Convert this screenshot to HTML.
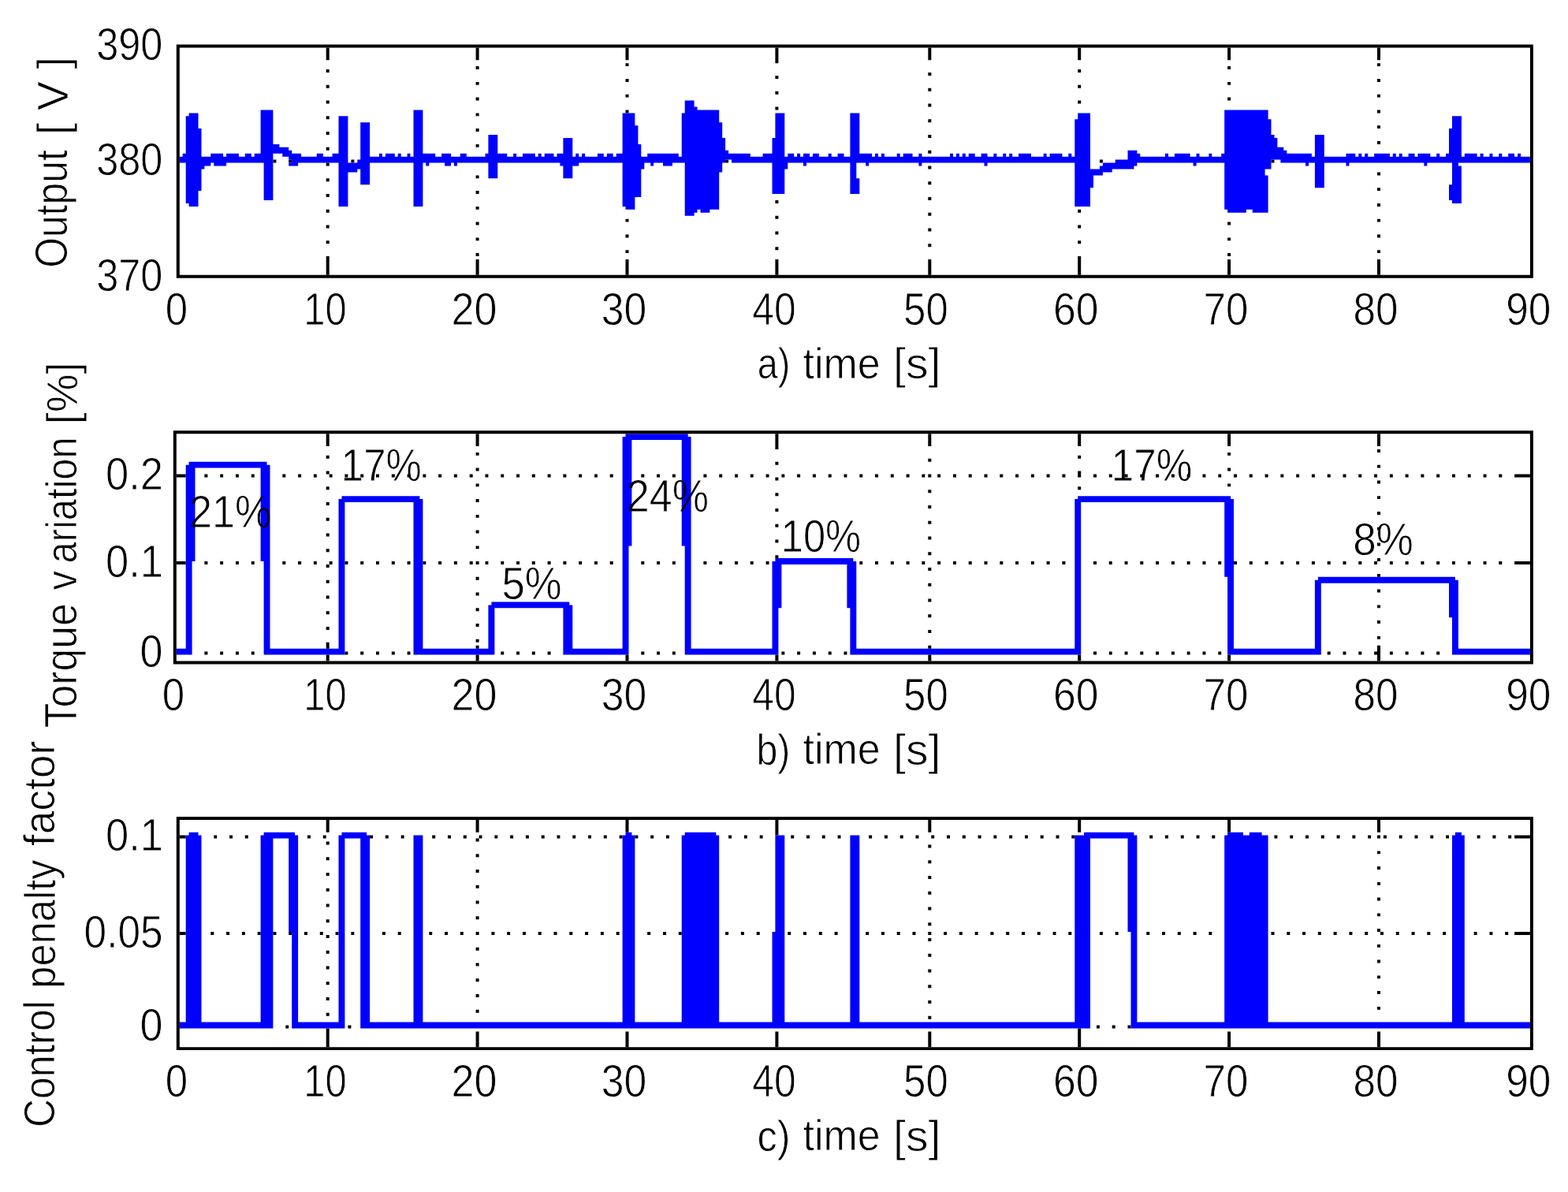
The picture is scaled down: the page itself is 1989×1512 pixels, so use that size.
<!DOCTYPE html>
<html lang="en"><head><meta charset="utf-8"><title>Figure</title>
<style>
html,body{margin:0;padding:0;background:#fff}
body{width:1989px;height:1512px;overflow:hidden}
svg{display:block}
text{font-family:"Liberation Sans","DejaVu Sans",sans-serif;font-size:100px;fill:#000;stroke:#fff;stroke-width:1.5px;stroke-linejoin:round}
g.t{mix-blend-mode:multiply}
</style></head><body>
<svg width="1989" height="1512" viewBox="0 0 1989 1512">
<rect width="1989" height="1512" fill="#fff"/>
<path d="M1561.1 348.8 L1557.1 348.8 L1557.1 329.0 L1561.1 329.0ZM1133.8 712.1 L1133.8 716.0 L1129.8 716.0 L1129.8 712.1ZM1774.7 1063.6 L1774.7 1059.6 L1778.7 1059.6 L1778.7 1063.6ZM291.1 1063.6 L291.1 1059.6 L295.0 1059.6 L295.0 1063.6ZM413.7 309.3 L413.7 305.3 L417.7 305.3 L417.7 309.3ZM417.7 167.1 L417.7 171.0 L413.7 171.0 L413.7 167.1ZM1588.8 605.5 L1584.8 605.5 L1584.8 601.5 L1588.8 601.5ZM1367.2 1328.2 L1367.2 1304.5 L1371.2 1304.5 L1371.2 1328.2ZM350.4 1186.0 L346.4 1186.0 L346.4 1182.1 L350.4 1182.1ZM568.0 1059.6 L572.0 1059.6 L572.0 1063.6 L568.0 1063.6ZM746.1 1059.6 L750.0 1059.6 L750.0 1063.6 L746.1 1063.6ZM1066.5 1063.6 L1062.6 1063.6 L1062.6 1059.6 L1066.5 1059.6ZM556.1 712.1 L560.1 712.1 L560.1 716.0 L556.1 716.0ZM659.0 830.6 L655.1 830.6 L655.1 826.6 L659.0 826.6ZM536.4 716.0 L536.4 712.1 L540.3 712.1 L540.3 716.0ZM789.6 1059.6 L789.6 1063.6 L785.6 1063.6 L785.6 1059.6ZM1300.0 1186.0 L1296.0 1186.0 L1296.0 1182.1 L1300.0 1182.1ZM1885.5 605.5 L1881.6 605.5 L1881.6 601.5 L1885.5 601.5ZM461.2 605.5 L457.2 605.5 L457.2 601.5 L461.2 601.5ZM1470.1 601.5 L1470.1 605.5 L1466.1 605.5 L1466.1 601.5ZM1371.2 336.9 L1371.2 348.8 L1367.2 348.8 L1367.2 325.1 L1371.2 325.1ZM1177.3 830.6 L1181.3 830.6 L1181.3 838.5 L1177.3 838.5ZM809.4 1063.6 L805.4 1063.6 L805.4 1059.6 L809.4 1059.6ZM607.6 186.8 L603.6 186.8 L603.6 182.9 L607.6 182.9ZM1802.4 830.6 L1802.4 826.6 L1806.4 826.6 L1806.4 830.6ZM1058.6 1186.0 L1058.6 1182.1 L1062.6 1182.1 L1062.6 1186.0ZM1683.7 826.6 L1687.7 826.6 L1687.7 830.6 L1683.7 830.6ZM417.7 1312.4 L417.7 1328.2 L413.7 1328.2 L413.7 1304.5 L417.7 1304.5ZM603.6 1107.0 L603.6 1103.1 L607.6 1103.1 L607.6 1107.0ZM603.6 838.5 L603.6 830.6 L607.6 830.6 L607.6 838.5ZM603.6 88.1 L603.6 84.1 L607.6 84.1 L607.6 88.1ZM417.7 333.0 L417.7 348.8 L413.7 348.8 L413.7 325.1 L417.7 325.1ZM299.0 605.5 L299.0 601.5 L302.9 601.5 L302.9 605.5ZM1747.0 629.2 L1751.0 629.2 L1751.0 633.1 L1747.0 633.1ZM1703.5 712.1 L1707.5 712.1 L1707.5 716.0 L1703.5 716.0ZM674.8 712.1 L678.8 712.1 L678.8 716.0 L674.8 716.0ZM314.8 1059.6 L314.8 1063.6 L310.8 1063.6 L310.8 1059.6ZM742.1 1186.0 L742.1 1182.1 L746.1 1182.1 L746.1 1186.0ZM1367.2 309.3 L1367.2 305.3 L1371.2 305.3 L1371.2 309.3ZM1470.1 826.6 L1470.1 830.6 L1466.1 830.6 L1466.1 826.6ZM607.6 222.4 L607.6 226.3 L603.6 226.3 L603.6 222.4ZM1747.0 791.1 L1747.0 787.1 L1751.0 787.1 L1751.0 791.1ZM516.6 712.1 L520.5 712.1 L520.5 716.0 L516.6 716.0ZM1212.9 601.5 L1212.9 605.5 L1209.0 605.5 L1209.0 601.5ZM473.1 1063.6 L469.1 1063.6 L469.1 1059.6 L473.1 1059.6ZM607.6 566.0 L603.6 566.0 L603.6 550.2 L607.6 550.2ZM607.6 676.6 L603.6 676.6 L603.6 672.6 L607.6 672.6ZM1177.3 783.2 L1177.3 779.2 L1181.3 779.2 L1181.3 783.2ZM417.7 1150.5 L413.7 1150.5 L413.7 1146.5 L417.7 1146.5ZM1177.3 645.0 L1177.3 641.0 L1181.3 641.0 L1181.3 645.0ZM647.1 1182.1 L647.1 1186.0 L643.2 1186.0 L643.2 1182.1ZM635.3 826.6 L639.2 826.6 L639.2 830.6 L635.3 830.6ZM813.3 826.6 L817.3 826.6 L817.3 830.6 L813.3 830.6ZM928.0 1063.6 L924.1 1063.6 L924.1 1059.6 L928.0 1059.6ZM1751.0 1083.3 L1747.0 1083.3 L1747.0 1079.4 L1751.0 1079.4ZM235.7 605.5 L223.8 605.5 L223.8 601.5 L235.7 601.5ZM987.4 838.5 L983.4 838.5 L983.4 830.6 L987.4 830.6ZM1391.0 830.6 L1387.0 830.6 L1387.0 826.6 L1391.0 826.6ZM1616.5 1063.6 L1616.5 1059.6 L1620.4 1059.6 L1620.4 1063.6ZM1644.2 712.1 L1648.1 712.1 L1648.1 716.0 L1644.2 716.0ZM322.7 826.6 L322.7 830.6 L318.8 830.6 L318.8 826.6ZM1747.0 1118.9 L1751.0 1118.9 L1751.0 1122.8 L1747.0 1122.8ZM1715.4 1186.0 L1711.4 1186.0 L1711.4 1182.1 L1715.4 1182.1ZM1201.0 1063.6 L1201.0 1059.6 L1205.0 1059.6 L1205.0 1063.6ZM1398.9 1186.0 L1394.9 1186.0 L1394.9 1182.1 L1398.9 1182.1ZM1181.3 151.3 L1181.3 155.2 L1177.3 155.2 L1177.3 151.3ZM413.7 210.5 L413.7 206.6 L417.7 206.6 L417.7 210.5ZM793.5 143.4 L793.5 139.4 L797.5 139.4 L797.5 143.4ZM1897.4 1063.6 L1893.4 1063.6 L1893.4 1059.6 L1897.4 1059.6ZM1751.0 1280.8 L1747.0 1280.8 L1747.0 1276.9 L1751.0 1276.9ZM1751.0 688.4 L1751.0 692.4 L1747.0 692.4 L1747.0 688.4ZM1070.5 826.6 L1074.4 826.6 L1074.4 830.6 L1070.5 830.6ZM1557.1 325.1 L1557.1 321.1 L1561.1 321.1 L1561.1 325.1ZM983.4 293.5 L987.4 293.5 L987.4 297.4 L983.4 297.4ZM848.9 1063.6 L845.0 1063.6 L845.0 1059.6 L848.9 1059.6ZM1371.2 558.1 L1371.2 566.0 L1367.2 566.0 L1367.2 550.2 L1371.2 550.2ZM417.7 696.3 L417.7 700.2 L413.7 700.2 L413.7 696.3ZM1751.0 1316.4 L1751.0 1328.2 L1747.0 1328.2 L1747.0 1308.5 L1751.0 1308.5ZM1220.8 1059.6 L1224.8 1059.6 L1224.8 1063.6 L1220.8 1063.6ZM607.6 1083.3 L607.6 1087.3 L603.6 1087.3 L603.6 1083.3ZM1624.4 716.0 L1624.4 712.1 L1628.3 712.1 L1628.3 716.0ZM793.5 340.9 L793.5 329.0 L797.5 329.0 L797.5 348.8 L793.5 348.8ZM488.9 1182.1 L488.9 1186.0 L484.9 1186.0 L484.9 1182.1ZM793.5 72.3 L793.5 60.4 L797.5 60.4 L797.5 76.2 L793.5 76.2ZM1561.1 127.6 L1557.1 127.6 L1557.1 123.6 L1561.1 123.6ZM413.7 558.1 L413.7 550.2 L417.7 550.2 L417.7 566.0 L413.7 566.0ZM1699.6 1059.6 L1699.6 1063.6 L1695.6 1063.6 L1695.6 1059.6ZM1557.1 88.1 L1557.1 84.1 L1561.1 84.1 L1561.1 88.1ZM983.4 645.0 L987.4 645.0 L987.4 648.9 L983.4 648.9ZM1747.0 103.9 L1747.0 99.9 L1751.0 99.9 L1751.0 103.9ZM920.1 1182.1 L924.1 1182.1 L924.1 1186.0 L920.1 1186.0ZM457.2 712.1 L461.2 712.1 L461.2 716.0 L457.2 716.0ZM1181.3 1292.7 L1177.3 1292.7 L1177.3 1288.7 L1181.3 1288.7ZM635.3 716.0 L635.3 712.1 L639.2 712.1 L639.2 716.0ZM1557.1 593.6 L1561.1 593.6 L1561.1 597.6 L1557.1 597.6ZM417.7 1055.7 L413.7 1055.7 L413.7 1039.9 L417.7 1039.9ZM583.8 1186.0 L583.8 1182.1 L587.8 1182.1 L587.8 1186.0ZM607.6 775.3 L603.6 775.3 L603.6 771.3 L607.6 771.3ZM1747.0 242.1 L1747.0 238.2 L1751.0 238.2 L1751.0 242.1ZM1747.0 317.2 L1751.0 317.2 L1751.0 321.1 L1747.0 321.1ZM1181.3 720.0 L1181.3 723.9 L1177.3 723.9 L1177.3 720.0ZM797.5 1051.7 L797.5 1055.7 L793.5 1055.7 L793.5 1039.9 L797.5 1039.9ZM603.6 1316.4 L603.6 1308.5 L607.6 1308.5 L607.6 1328.2 L603.6 1328.2ZM797.5 84.1 L793.5 84.1 L793.5 80.2 L797.5 80.2ZM607.6 64.4 L607.6 76.2 L603.6 76.2 L603.6 60.4 L607.6 60.4ZM1074.4 601.5 L1074.4 605.5 L1070.5 605.5 L1070.5 601.5ZM987.4 254.0 L987.4 257.9 L983.4 257.9 L983.4 254.0ZM603.6 617.3 L603.6 613.4 L607.6 613.4 L607.6 617.3ZM603.6 692.4 L607.6 692.4 L607.6 696.3 L603.6 696.3ZM963.7 1063.6 L963.7 1059.6 L967.6 1059.6 L967.6 1063.6ZM1371.2 111.8 L1367.2 111.8 L1367.2 107.8 L1371.2 107.8ZM1446.3 830.6 L1446.3 826.6 L1450.3 826.6 L1450.3 830.6ZM1177.3 1174.2 L1177.3 1170.2 L1181.3 1170.2 L1181.3 1174.2ZM1177.3 194.7 L1177.3 190.8 L1181.3 190.8 L1181.3 194.7ZM1683.7 712.1 L1687.7 712.1 L1687.7 716.0 L1683.7 716.0ZM995.3 605.5 L991.4 605.5 L991.4 601.5 L995.3 601.5ZM738.1 601.5 L738.1 605.5 L734.2 605.5 L734.2 601.5ZM797.5 321.1 L793.5 321.1 L793.5 317.2 L797.5 317.2ZM607.6 261.9 L607.6 265.8 L603.6 265.8 L603.6 261.9ZM1177.3 562.0 L1177.3 550.2 L1181.3 550.2 L1181.3 566.0 L1177.3 566.0ZM1936.9 1063.6 L1921.1 1063.6 L1921.1 1059.6 L1940.9 1059.6 L1940.9 1063.6ZM1054.7 830.6 L1050.7 830.6 L1050.7 826.6 L1054.7 826.6ZM477.0 601.5 L481.0 601.5 L481.0 605.5 L477.0 605.5ZM417.7 1190.0 L413.7 1190.0 L413.7 1186.0 L417.7 1186.0ZM417.7 597.6 L417.7 601.5 L413.7 601.5 L413.7 597.6ZM714.4 605.5 L714.4 601.5 L718.4 601.5 L718.4 605.5ZM1727.3 830.6 L1723.3 830.6 L1723.3 826.6 L1727.3 826.6ZM1802.4 712.1 L1806.4 712.1 L1806.4 716.0 L1802.4 716.0ZM603.6 1051.7 L603.6 1039.9 L607.6 1039.9 L607.6 1055.7 L603.6 1055.7ZM540.3 605.5 L536.4 605.5 L536.4 601.5 L540.3 601.5ZM1410.7 605.5 L1406.8 605.5 L1406.8 601.5 L1410.7 601.5ZM1125.9 1059.6 L1125.9 1063.6 L1121.9 1063.6 L1121.9 1059.6ZM322.7 712.1 L322.7 716.0 L318.8 716.0 L318.8 712.1ZM1232.7 712.1 L1232.7 716.0 L1228.7 716.0 L1228.7 712.1ZM417.7 1225.5 L417.7 1229.5 L413.7 1229.5 L413.7 1225.5ZM666.9 1186.0 L663.0 1186.0 L663.0 1182.1 L666.9 1182.1ZM413.7 72.3 L413.7 60.4 L417.7 60.4 L417.7 76.2 L413.7 76.2ZM1153.6 601.5 L1153.6 605.5 L1149.6 605.5 L1149.6 601.5ZM1751.0 1142.6 L1747.0 1142.6 L1747.0 1138.6 L1751.0 1138.6ZM1410.7 1304.5 L1410.7 1300.6 L1414.7 1300.6 L1414.7 1304.5ZM1561.1 838.5 L1557.1 838.5 L1557.1 830.6 L1561.1 830.6ZM1177.3 585.7 L1177.3 581.8 L1181.3 581.8 L1181.3 585.7ZM1367.2 601.5 L1367.2 597.6 L1371.2 597.6 L1371.2 605.5 L1367.2 605.5ZM754.0 712.1 L757.9 712.1 L757.9 716.0 L754.0 716.0ZM983.4 1051.7 L983.4 1039.9 L987.4 1039.9 L987.4 1059.6 L983.4 1059.6ZM825.2 1186.0 L821.2 1186.0 L821.2 1182.1 L825.2 1182.1ZM1751.0 139.4 L1751.0 143.4 L1747.0 143.4 L1747.0 139.4ZM421.6 601.5 L421.6 605.5 L417.7 605.5 L417.7 601.5ZM983.4 72.3 L983.4 60.4 L987.4 60.4 L987.4 80.2 L983.4 80.2ZM1933.0 1186.0 L1921.1 1186.0 L1921.1 1182.1 L1940.9 1182.1 L1940.9 1186.0ZM508.7 1186.0 L504.7 1186.0 L504.7 1182.1 L508.7 1182.1ZM1747.0 1059.6 L1751.0 1059.6 L1751.0 1063.6 L1747.0 1063.6ZM1751.0 593.6 L1747.0 593.6 L1747.0 589.7 L1751.0 589.7ZM785.6 1186.0 L781.7 1186.0 L781.7 1182.1 L785.6 1182.1ZM1747.0 1221.6 L1747.0 1217.6 L1751.0 1217.6 L1751.0 1221.6ZM413.7 151.3 L413.7 147.3 L417.7 147.3 L417.7 151.3ZM1747.0 605.5 L1743.1 605.5 L1743.1 601.5 L1747.0 601.5ZM397.9 605.5 L397.9 601.5 L401.8 601.5 L401.8 605.5ZM983.4 589.7 L983.4 585.7 L987.4 585.7 L987.4 589.7ZM1652.1 1186.0 L1652.1 1182.1 L1656.0 1182.1 L1656.0 1186.0ZM421.6 712.1 L421.6 716.0 L417.7 716.0 L417.7 712.1ZM1177.3 1075.4 L1177.3 1071.5 L1181.3 1071.5 L1181.3 1075.4ZM1272.3 605.5 L1268.3 605.5 L1268.3 601.5 L1272.3 601.5ZM1303.9 1059.6 L1303.9 1063.6 L1300.0 1063.6 L1300.0 1059.6ZM1177.3 210.5 L1181.3 210.5 L1181.3 214.5 L1177.3 214.5ZM1747.0 329.0 L1751.0 329.0 L1751.0 348.8 L1747.0 348.8ZM1747.0 1257.1 L1751.0 1257.1 L1751.0 1261.1 L1747.0 1261.1ZM983.4 96.0 L987.4 96.0 L987.4 99.9 L983.4 99.9ZM607.6 755.5 L603.6 755.5 L603.6 751.6 L607.6 751.6ZM417.7 818.7 L417.7 822.7 L413.7 822.7 L413.7 814.8 L417.7 814.8ZM1861.8 601.5 L1865.7 601.5 L1865.7 605.5 L1861.8 605.5ZM1557.1 72.3 L1557.1 60.4 L1561.1 60.4 L1561.1 76.2 L1557.1 76.2ZM1877.6 1059.6 L1877.6 1063.6 L1873.6 1063.6 L1873.6 1059.6ZM413.7 285.6 L417.7 285.6 L417.7 289.5 L413.7 289.5ZM1118.0 1182.1 L1121.9 1182.1 L1121.9 1186.0 L1118.0 1186.0ZM1319.7 1186.0 L1315.8 1186.0 L1315.8 1182.1 L1319.7 1182.1ZM1177.3 1272.9 L1177.3 1269.0 L1181.3 1269.0 L1181.3 1272.9ZM481.0 716.0 L477.0 716.0 L477.0 712.1 L481.0 712.1ZM1715.4 1059.6 L1719.3 1059.6 L1719.3 1063.6 L1715.4 1063.6ZM548.2 1063.6 L548.2 1059.6 L552.2 1059.6 L552.2 1063.6ZM603.6 795.0 L603.6 791.1 L607.6 791.1 L607.6 795.0ZM1371.2 838.5 L1367.2 838.5 L1367.2 830.6 L1371.2 830.6ZM575.9 605.5 L575.9 601.5 L579.9 601.5 L579.9 605.5ZM1925.1 601.5 L1940.9 601.5 L1940.9 605.5 L1921.1 605.5 L1921.1 601.5ZM1181.3 818.7 L1181.3 822.7 L1177.3 822.7 L1177.3 818.7ZM1335.6 1186.0 L1335.6 1182.1 L1339.5 1182.1 L1339.5 1186.0ZM1735.2 1182.1 L1735.2 1186.0 L1731.2 1186.0 L1731.2 1182.1ZM1110.0 601.5 L1114.0 601.5 L1114.0 605.5 L1110.0 605.5ZM896.4 712.1 L896.4 716.0 L892.4 716.0 L892.4 712.1ZM1236.7 1182.1 L1240.6 1182.1 L1240.6 1186.0 L1236.7 1186.0ZM797.5 1308.5 L797.5 1328.2 L793.5 1328.2 L793.5 1308.5ZM1177.3 254.0 L1177.3 250.0 L1181.3 250.0 L1181.3 254.0ZM1881.6 716.0 L1881.6 712.1 L1885.5 712.1 L1885.5 716.0ZM860.8 1186.0 L860.8 1182.1 L864.7 1182.1 L864.7 1186.0ZM1410.7 826.6 L1410.7 830.6 L1406.8 830.6 L1406.8 826.6ZM1181.3 60.4 L1181.3 76.2 L1177.3 76.2 L1177.3 60.4ZM1371.2 76.2 L1367.2 76.2 L1367.2 60.4 L1371.2 60.4ZM1802.4 605.5 L1802.4 601.5 L1806.4 601.5 L1806.4 605.5ZM1367.2 265.8 L1371.2 265.8 L1371.2 269.8 L1367.2 269.8ZM413.7 830.6 L417.7 830.6 L417.7 838.5 L413.7 838.5ZM445.4 1182.1 L449.3 1182.1 L449.3 1186.0 L445.4 1186.0ZM1485.9 716.0 L1485.9 712.1 L1489.9 712.1 L1489.9 716.0ZM1545.3 716.0 L1545.3 712.1 L1549.2 712.1 L1549.2 716.0ZM1561.1 1308.5 L1561.1 1328.2 L1557.1 1328.2 L1557.1 1308.5ZM1747.0 731.8 L1747.0 727.9 L1751.0 727.9 L1751.0 731.8ZM833.1 716.0 L833.1 712.1 L837.0 712.1 L837.0 716.0ZM1177.3 1190.0 L1181.3 1190.0 L1181.3 1193.9 L1177.3 1193.9ZM1751.0 1047.8 L1751.0 1055.7 L1747.0 1055.7 L1747.0 1039.9 L1751.0 1039.9ZM1177.3 333.0 L1177.3 329.0 L1181.3 329.0 L1181.3 348.8 L1177.3 348.8ZM698.6 716.0 L694.6 716.0 L694.6 712.1 L698.6 712.1ZM1482.0 1059.6 L1482.0 1063.6 L1478.0 1063.6 L1478.0 1059.6ZM983.4 139.4 L983.4 135.5 L987.4 135.5 L987.4 139.4ZM975.5 601.5 L975.5 605.5 L971.6 605.5 L971.6 601.5ZM1751.0 178.9 L1751.0 182.9 L1747.0 182.9 L1747.0 178.9ZM1181.3 802.9 L1177.3 802.9 L1177.3 799.0 L1181.3 799.0ZM413.7 186.8 L417.7 186.8 L417.7 190.8 L413.7 190.8ZM263.4 601.5 L263.4 605.5 L259.4 605.5 L259.4 601.5ZM1561.1 107.8 L1557.1 107.8 L1557.1 103.9 L1561.1 103.9ZM1161.5 1059.6 L1165.4 1059.6 L1165.4 1063.6 L1161.5 1063.6ZM1747.0 806.9 L1751.0 806.9 L1751.0 810.8 L1747.0 810.8ZM322.7 601.5 L322.7 605.5 L318.8 605.5 L318.8 601.5ZM829.1 1059.6 L829.1 1063.6 L825.2 1063.6 L825.2 1059.6ZM1292.0 716.0 L1288.1 716.0 L1288.1 712.1 L1292.0 712.1ZM983.4 336.9 L983.4 329.0 L987.4 329.0 L987.4 348.8 L983.4 348.8ZM1177.3 1114.9 L1177.3 1111.0 L1181.3 1111.0 L1181.3 1114.9ZM754.0 601.5 L757.9 601.5 L757.9 605.5 L754.0 605.5ZM1569.0 712.1 L1569.0 716.0 L1565.0 716.0 L1565.0 712.1ZM833.1 830.6 L833.1 826.6 L837.0 826.6 L837.0 830.6ZM607.6 822.7 L603.6 822.7 L603.6 818.7 L607.6 818.7ZM1656.0 1059.6 L1660.0 1059.6 L1660.0 1063.6 L1656.0 1063.6ZM603.6 1261.1 L607.6 1261.1 L607.6 1265.0 L603.6 1265.0ZM1612.5 1186.0 L1612.5 1182.1 L1616.5 1182.1 L1616.5 1186.0ZM1735.2 1059.6 L1739.1 1059.6 L1739.1 1063.6 L1735.2 1063.6ZM987.4 668.7 L983.4 668.7 L983.4 664.7 L987.4 664.7ZM1307.9 716.0 L1307.9 712.1 L1311.8 712.1 L1311.8 716.0ZM1517.6 1182.1 L1517.6 1186.0 L1513.6 1186.0 L1513.6 1182.1ZM1842.0 601.5 L1845.9 601.5 L1845.9 605.5 L1842.0 605.5ZM817.3 605.5 L813.3 605.5 L813.3 601.5 L817.3 601.5ZM1913.2 1182.1 L1913.2 1186.0 L1909.2 1186.0 L1909.2 1182.1ZM1786.6 716.0 L1782.6 716.0 L1782.6 712.1 L1786.6 712.1ZM817.3 716.0 L813.3 716.0 L813.3 712.1 L817.3 712.1ZM564.1 1182.1 L568.0 1182.1 L568.0 1186.0 L564.1 1186.0ZM417.7 1107.0 L417.7 1111.0 L413.7 1111.0 L413.7 1107.0ZM987.4 119.7 L983.4 119.7 L983.4 115.7 L987.4 115.7ZM666.9 1063.6 L666.9 1059.6 L670.9 1059.6 L670.9 1063.6ZM500.8 601.5 L500.8 605.5 L496.8 605.5 L496.8 601.5ZM1505.7 712.1 L1509.6 712.1 L1509.6 716.0 L1505.7 716.0ZM1584.8 712.1 L1588.8 712.1 L1588.8 716.0 L1584.8 716.0ZM983.4 1312.4 L983.4 1308.5 L987.4 1308.5 L987.4 1328.2 L983.4 1328.2ZM1826.2 712.1 L1826.2 716.0 L1822.2 716.0 L1822.2 712.1ZM659.0 716.0 L655.1 716.0 L655.1 712.1 L659.0 712.1ZM1691.6 1182.1 L1695.6 1182.1 L1695.6 1186.0 L1691.6 1186.0ZM1177.3 234.2 L1177.3 230.3 L1181.3 230.3 L1181.3 234.2ZM1751.0 672.6 L1747.0 672.6 L1747.0 668.7 L1751.0 668.7ZM987.4 317.2 L983.4 317.2 L983.4 313.2 L987.4 313.2ZM1751.0 80.2 L1751.0 84.1 L1747.0 84.1 L1747.0 80.2ZM417.7 799.0 L413.7 799.0 L413.7 795.0 L417.7 795.0ZM1177.3 1186.0 L1177.3 1182.1 L1181.3 1182.1 L1181.3 1186.0ZM520.5 826.6 L520.5 830.6 L516.6 830.6 L516.6 826.6ZM607.6 1186.0 L603.6 1186.0 L603.6 1182.1 L607.6 1182.1ZM1410.7 712.1 L1410.7 716.0 L1406.8 716.0 L1406.8 712.1ZM417.7 88.1 L417.7 92.0 L413.7 92.0 L413.7 88.1ZM1751.0 708.1 L1751.0 712.1 L1747.0 712.1 L1747.0 708.1ZM1181.3 175.0 L1177.3 175.0 L1177.3 171.0 L1181.3 171.0ZM1818.2 1063.6 L1814.3 1063.6 L1814.3 1059.6 L1818.2 1059.6ZM797.5 277.7 L797.5 281.6 L793.5 281.6 L793.5 277.7ZM413.7 716.0 L417.7 716.0 L417.7 720.0 L413.7 720.0ZM417.7 250.0 L413.7 250.0 L413.7 246.1 L417.7 246.1ZM1149.6 712.1 L1153.6 712.1 L1153.6 716.0 L1149.6 716.0ZM1268.3 712.1 L1272.3 712.1 L1272.3 716.0 L1268.3 716.0ZM912.2 605.5 L912.2 601.5 L916.2 601.5 L916.2 605.5ZM1671.9 1186.0 L1671.9 1182.1 L1675.8 1182.1 L1675.8 1186.0ZM1054.7 605.5 L1050.7 605.5 L1050.7 601.5 L1054.7 601.5ZM726.3 1186.0 L722.3 1186.0 L722.3 1182.1 L726.3 1182.1ZM283.1 830.6 L279.2 830.6 L279.2 826.6 L283.1 826.6ZM587.8 1063.6 L587.8 1059.6 L591.8 1059.6 L591.8 1063.6ZM413.7 775.3 L417.7 775.3 L417.7 779.2 L413.7 779.2ZM607.6 167.1 L603.6 167.1 L603.6 163.1 L607.6 163.1ZM1181.3 111.8 L1181.3 115.7 L1177.3 115.7 L1177.3 111.8ZM1485.9 605.5 L1485.9 601.5 L1489.9 601.5 L1489.9 605.5ZM1110.0 712.1 L1114.0 712.1 L1114.0 716.0 L1110.0 716.0ZM623.4 1186.0 L623.4 1182.1 L627.4 1182.1 L627.4 1186.0ZM936.0 601.5 L936.0 605.5 L932.0 605.5 L932.0 601.5ZM1387.0 601.5 L1391.0 601.5 L1391.0 605.5 L1387.0 605.5ZM841.0 1182.1 L845.0 1182.1 L845.0 1186.0 L841.0 1186.0ZM291.1 1182.1 L291.1 1186.0 L287.1 1186.0 L287.1 1182.1ZM1940.9 716.0 L1921.1 716.0 L1921.1 712.1 L1940.9 712.1ZM987.4 629.2 L983.4 629.2 L983.4 625.2 L987.4 625.2ZM302.9 716.0 L299.0 716.0 L299.0 712.1 L302.9 712.1ZM1034.9 830.6 L1030.9 830.6 L1030.9 826.6 L1034.9 826.6ZM1367.2 1043.8 L1367.2 1039.9 L1371.2 1039.9 L1371.2 1055.7 L1367.2 1055.7ZM987.4 566.0 L987.4 569.9 L983.4 569.9 L983.4 550.2 L987.4 550.2ZM603.6 246.1 L603.6 242.1 L607.6 242.1 L607.6 246.1ZM1521.5 1063.6 L1517.6 1063.6 L1517.6 1059.6 L1521.5 1059.6ZM1181.3 309.3 L1181.3 313.2 L1177.3 313.2 L1177.3 309.3ZM1011.1 605.5 L1011.1 601.5 L1015.1 601.5 L1015.1 605.5ZM1747.0 68.3 L1747.0 60.4 L1751.0 60.4 L1751.0 76.2 L1747.0 76.2ZM595.7 712.1 L599.7 712.1 L599.7 716.0 L595.7 716.0ZM603.6 281.6 L607.6 281.6 L607.6 285.6 L603.6 285.6ZM429.5 1186.0 L425.6 1186.0 L425.6 1182.1 L429.5 1182.1ZM1177.3 763.4 L1177.3 759.5 L1181.3 759.5 L1181.3 763.4ZM1762.9 830.6 L1762.9 826.6 L1766.8 826.6 L1766.8 830.6ZM1359.3 1182.1 L1359.3 1186.0 L1355.3 1186.0 L1355.3 1182.1ZM1145.7 1063.6 L1141.7 1063.6 L1141.7 1059.6 L1145.7 1059.6ZM1505.7 601.5 L1509.6 601.5 L1509.6 605.5 L1505.7 605.5ZM1181.3 1233.4 L1177.3 1233.4 L1177.3 1229.5 L1181.3 1229.5ZM1640.2 1063.6 L1636.3 1063.6 L1636.3 1059.6 L1640.2 1059.6ZM1873.6 1182.1 L1873.6 1186.0 L1869.7 1186.0 L1869.7 1182.1ZM417.7 617.3 L417.7 621.3 L413.7 621.3 L413.7 617.3ZM263.4 712.1 L263.4 716.0 L259.4 716.0 L259.4 712.1ZM488.9 1063.6 L488.9 1059.6 L492.8 1059.6 L492.8 1063.6ZM607.6 735.8 L603.6 735.8 L603.6 731.8 L607.6 731.8ZM1359.3 1059.6 L1363.3 1059.6 L1363.3 1063.6 L1359.3 1063.6ZM370.2 202.6 L370.2 206.6 L366.2 206.6 L366.2 202.6ZM1434.5 1304.5 L1430.5 1304.5 L1430.5 1300.6 L1434.5 1300.6ZM235.7 1182.1 L235.7 1186.0 L227.8 1186.0 L227.8 1182.1ZM1090.3 605.5 L1090.3 601.5 L1094.2 601.5 L1094.2 605.5ZM983.4 273.7 L987.4 273.7 L987.4 277.7 L983.4 277.7ZM449.3 202.6 L449.3 206.6 L445.4 206.6 L445.4 202.6ZM983.4 708.1 L983.4 704.2 L987.4 704.2 L987.4 708.1ZM1394.9 1304.5 L1391.0 1304.5 L1391.0 1300.6 L1394.9 1300.6ZM1367.2 131.5 L1367.2 127.6 L1371.2 127.6 L1371.2 131.5ZM1561.1 566.0 L1557.1 566.0 L1557.1 550.2 L1561.1 550.2ZM1608.6 716.0 L1604.6 716.0 L1604.6 712.1 L1608.6 712.1ZM1747.0 1241.3 L1747.0 1237.4 L1751.0 1237.4 L1751.0 1241.3ZM1687.7 605.5 L1683.7 605.5 L1683.7 601.5 L1687.7 601.5ZM1747.0 222.4 L1747.0 218.4 L1751.0 218.4 L1751.0 222.4ZM386.0 1182.1 L390.0 1182.1 L390.0 1186.0 L386.0 1186.0ZM1351.4 601.5 L1351.4 605.5 L1347.4 605.5 L1347.4 601.5ZM1351.4 712.1 L1351.4 716.0 L1347.4 716.0 L1347.4 712.1ZM639.2 605.5 L635.3 605.5 L635.3 601.5 L639.2 601.5ZM1177.3 664.7 L1177.3 660.8 L1181.3 660.8 L1181.3 664.7ZM1751.0 1103.1 L1747.0 1103.1 L1747.0 1099.1 L1751.0 1099.1ZM987.4 609.4 L983.4 609.4 L983.4 605.5 L987.4 605.5ZM1838.0 1063.6 L1834.1 1063.6 L1834.1 1059.6 L1838.0 1059.6ZM1371.2 92.0 L1367.2 92.0 L1367.2 88.1 L1371.2 88.1ZM1470.1 716.0 L1466.1 716.0 L1466.1 712.1 L1470.1 712.1ZM1525.5 712.1 L1529.4 712.1 L1529.4 716.0 L1525.5 716.0ZM496.8 712.1 L500.8 712.1 L500.8 716.0 L496.8 716.0ZM1181.3 1316.4 L1181.3 1328.2 L1177.3 1328.2 L1177.3 1308.5 L1181.3 1308.5ZM1034.9 601.5 L1034.9 605.5 L1030.9 605.5 L1030.9 601.5ZM1280.2 1059.6 L1284.1 1059.6 L1284.1 1063.6 L1280.2 1063.6ZM603.6 321.1 L607.6 321.1 L607.6 325.1 L603.6 325.1ZM1561.1 577.8 L1557.1 577.8 L1557.1 573.9 L1561.1 573.9ZM1177.3 1249.2 L1181.3 1249.2 L1181.3 1253.2 L1177.3 1253.2ZM1102.1 1186.0 L1098.2 1186.0 L1098.2 1182.1 L1102.1 1182.1ZM1252.5 605.5 L1248.5 605.5 L1248.5 601.5 L1252.5 601.5ZM1497.8 1063.6 L1497.8 1059.6 L1501.7 1059.6 L1501.7 1063.6ZM1339.5 1059.6 L1343.5 1059.6 L1343.5 1063.6 L1339.5 1063.6ZM1747.0 123.6 L1747.0 119.7 L1751.0 119.7 L1751.0 123.6ZM1751.0 281.6 L1747.0 281.6 L1747.0 277.7 L1751.0 277.7ZM773.7 716.0 L773.7 712.1 L777.7 712.1 L777.7 716.0ZM275.2 1063.6 L271.3 1063.6 L271.3 1059.6 L275.2 1059.6ZM1747.0 822.7 L1747.0 818.7 L1751.0 818.7 L1751.0 838.5 L1747.0 838.5 L1747.0 830.6 L1743.1 830.6 L1743.1 826.6 L1747.0 826.6ZM1458.2 1182.1 L1458.2 1186.0 L1454.3 1186.0 L1454.3 1182.1ZM1288.1 601.5 L1292.0 601.5 L1292.0 605.5 L1288.1 605.5ZM1557.1 613.4 L1561.1 613.4 L1561.1 617.3 L1557.1 617.3ZM1537.3 1186.0 L1533.4 1186.0 L1533.4 1182.1 L1537.3 1182.1ZM1220.8 1186.0 L1216.9 1186.0 L1216.9 1182.1 L1220.8 1182.1ZM1276.2 1182.1 L1280.2 1182.1 L1280.2 1186.0 L1276.2 1186.0ZM437.4 716.0 L437.4 712.1 L441.4 712.1 L441.4 716.0ZM690.7 1059.6 L690.7 1063.6 L686.7 1063.6 L686.7 1059.6ZM1561.1 1051.7 L1561.1 1055.7 L1557.1 1055.7 L1557.1 1039.9 L1561.1 1039.9ZM603.6 712.1 L607.6 712.1 L607.6 716.0 L603.6 716.0ZM603.6 573.9 L607.6 573.9 L607.6 577.8 L603.6 577.8ZM1675.8 1063.6 L1675.8 1059.6 L1679.8 1059.6 L1679.8 1063.6ZM1193.1 605.5 L1189.2 605.5 L1189.2 601.5 L1193.1 601.5ZM936.0 712.1 L936.0 716.0 L932.0 716.0 L932.0 712.1ZM548.2 1186.0 L544.3 1186.0 L544.3 1182.1 L548.2 1182.1ZM1703.5 601.5 L1707.5 601.5 L1707.5 605.5 L1703.5 605.5ZM674.8 601.5 L678.8 601.5 L678.8 605.5 L674.8 605.5ZM417.7 1209.7 L413.7 1209.7 L413.7 1205.8 L417.7 1205.8ZM417.7 1071.5 L413.7 1071.5 L413.7 1067.5 L417.7 1067.5ZM674.8 826.6 L678.8 826.6 L678.8 830.6 L674.8 830.6ZM1766.8 605.5 L1762.9 605.5 L1762.9 601.5 L1766.8 601.5ZM607.6 336.9 L607.6 348.8 L603.6 348.8 L603.6 329.0 L607.6 329.0ZM1901.3 601.5 L1905.3 601.5 L1905.3 605.5 L1901.3 605.5ZM1038.8 1182.1 L1042.8 1182.1 L1042.8 1186.0 L1038.8 1186.0ZM1561.1 281.6 L1561.1 285.6 L1557.1 285.6 L1557.1 281.6ZM1632.3 1182.1 L1636.3 1182.1 L1636.3 1186.0 L1632.3 1186.0ZM1751.0 613.4 L1747.0 613.4 L1747.0 609.4 L1751.0 609.4ZM1371.2 617.3 L1371.2 621.3 L1367.2 621.3 L1367.2 617.3ZM975.5 716.0 L971.6 716.0 L971.6 712.1 L975.5 712.1ZM603.6 1067.5 L603.6 1063.6 L607.6 1063.6 L607.6 1067.5ZM1102.1 1063.6 L1102.1 1059.6 L1106.1 1059.6 L1106.1 1063.6ZM413.7 269.8 L413.7 265.8 L417.7 265.8 L417.7 269.8ZM1094.2 716.0 L1090.3 716.0 L1090.3 712.1 L1094.2 712.1ZM627.4 1063.6 L627.4 1059.6 L631.3 1059.6 L631.3 1063.6ZM1462.2 1059.6 L1462.2 1063.6 L1458.2 1063.6 L1458.2 1059.6ZM330.6 1182.1 L330.6 1186.0 L326.7 1186.0 L326.7 1182.1ZM1889.5 1186.0 L1889.5 1182.1 L1893.4 1182.1 L1893.4 1186.0ZM516.6 605.5 L516.6 601.5 L520.5 601.5 L520.5 605.5ZM417.7 759.5 L413.7 759.5 L413.7 755.5 L417.7 755.5ZM1177.3 1051.7 L1177.3 1039.9 L1181.3 1039.9 L1181.3 1055.7 L1177.3 1055.7ZM413.7 1249.2 L413.7 1245.3 L417.7 1245.3 L417.7 1249.2ZM765.8 1059.6 L769.8 1059.6 L769.8 1063.6 L765.8 1063.6ZM279.2 601.5 L283.1 601.5 L283.1 605.5 L279.2 605.5ZM1252.5 716.0 L1248.5 716.0 L1248.5 712.1 L1252.5 712.1ZM1786.6 826.6 L1786.6 830.6 L1782.6 830.6 L1782.6 826.6ZM279.2 712.1 L283.1 712.1 L283.1 716.0 L279.2 716.0ZM777.7 605.5 L773.7 605.5 L773.7 601.5 L777.7 601.5ZM1027.0 1059.6 L1027.0 1063.6 L1023.0 1063.6 L1023.0 1059.6ZM1845.9 716.0 L1842.0 716.0 L1842.0 712.1 L1845.9 712.1ZM1604.6 605.5 L1604.6 601.5 L1608.6 601.5 L1608.6 605.5ZM1822.2 826.6 L1826.2 826.6 L1826.2 830.6 L1822.2 830.6ZM603.6 652.9 L607.6 652.9 L607.6 656.8 L603.6 656.8ZM1311.8 605.5 L1307.9 605.5 L1307.9 601.5 L1311.8 601.5ZM1177.3 1134.7 L1177.3 1130.7 L1181.3 1130.7 L1181.3 1134.7ZM1747.0 767.4 L1751.0 767.4 L1751.0 771.3 L1747.0 771.3ZM1762.9 716.0 L1762.9 712.1 L1766.8 712.1 L1766.8 716.0ZM299.0 830.6 L299.0 826.6 L302.9 826.6 L302.9 830.6ZM951.8 605.5 L951.8 601.5 L955.7 601.5 L955.7 605.5ZM496.8 830.6 L496.8 826.6 L500.8 826.6 L500.8 830.6ZM912.2 712.1 L916.2 712.1 L916.2 716.0 L912.2 716.0ZM999.3 1186.0 L999.3 1182.1 L1003.2 1182.1 L1003.2 1186.0ZM1917.2 1063.6 L1913.2 1063.6 L1913.2 1059.6 L1917.2 1059.6ZM1398.9 202.6 L1398.9 206.6 L1394.9 206.6 L1394.9 202.6ZM1430.5 605.5 L1426.6 605.5 L1426.6 601.5 L1430.5 601.5ZM1189.2 712.1 L1193.1 712.1 L1193.1 716.0 L1189.2 716.0ZM1137.7 1186.0 L1137.7 1182.1 L1141.7 1182.1 L1141.7 1186.0ZM1042.8 1063.6 L1042.8 1059.6 L1046.7 1059.6 L1046.7 1063.6ZM1430.5 830.6 L1426.6 830.6 L1426.6 826.6 L1430.5 826.6ZM1747.0 1158.4 L1751.0 1158.4 L1751.0 1162.3 L1747.0 1162.3ZM1446.3 605.5 L1446.3 601.5 L1450.3 601.5 L1450.3 605.5ZM924.1 202.6 L924.1 206.6 L920.1 206.6 L920.1 202.6ZM947.8 1063.6 L943.9 1063.6 L943.9 1059.6 L947.8 1059.6ZM1549.2 830.6 L1545.3 830.6 L1545.3 826.6 L1549.2 826.6ZM1747.0 1182.1 L1747.0 1178.1 L1751.0 1178.1 L1751.0 1182.1ZM734.2 712.1 L738.1 712.1 L738.1 716.0 L734.2 716.0ZM362.3 716.0 L358.3 716.0 L358.3 712.1 L362.3 712.1ZM1537.3 1063.6 L1537.3 1059.6 L1541.3 1059.6 L1541.3 1063.6ZM726.3 1063.6 L726.3 1059.6 L730.2 1059.6 L730.2 1063.6ZM607.6 1201.8 L607.6 1205.8 L603.6 1205.8 L603.6 1201.8ZM1747.0 301.4 L1747.0 297.4 L1751.0 297.4 L1751.0 301.4ZM1565.0 605.5 L1565.0 601.5 L1569.0 601.5 L1569.0 605.5ZM955.7 716.0 L951.8 716.0 L951.8 712.1 L955.7 712.1ZM714.4 716.0 L714.4 712.1 L718.4 712.1 L718.4 716.0ZM1181.3 131.5 L1181.3 135.5 L1177.3 135.5 L1177.3 131.5ZM390.0 1063.6 L390.0 1059.6 L393.9 1059.6 L393.9 1063.6ZM417.7 1087.3 L417.7 1091.2 L413.7 1091.2 L413.7 1087.3ZM382.1 605.5 L378.1 605.5 L378.1 601.5 L382.1 601.5ZM1450.3 716.0 L1446.3 716.0 L1446.3 712.1 L1450.3 712.1ZM1529.4 605.5 L1525.5 605.5 L1525.5 601.5 L1529.4 601.5ZM1209.0 716.0 L1209.0 712.1 L1212.9 712.1 L1212.9 716.0ZM560.1 605.5 L556.1 605.5 L556.1 601.5 L560.1 601.5ZM227.8 712.1 L235.7 712.1 L235.7 716.0 L223.8 716.0 L223.8 712.1ZM1747.0 1197.9 L1751.0 1197.9 L1751.0 1201.8 L1747.0 1201.8ZM603.6 1245.3 L603.6 1241.3 L607.6 1241.3 L607.6 1245.3ZM1177.3 1213.7 L1177.3 1209.7 L1181.3 1209.7 L1181.3 1213.7ZM1023.0 1186.0 L1019.0 1186.0 L1019.0 1182.1 L1023.0 1182.1ZM1474.0 1186.0 L1474.0 1182.1 L1478.0 1182.1 L1478.0 1186.0ZM1177.3 700.2 L1181.3 700.2 L1181.3 704.2 L1177.3 704.2ZM1181.3 1154.4 L1177.3 1154.4 L1177.3 1150.5 L1181.3 1150.5ZM1786.6 601.5 L1786.6 605.5 L1782.6 605.5 L1782.6 601.5ZM651.1 1063.6 L647.1 1063.6 L647.1 1059.6 L651.1 1059.6ZM1707.5 830.6 L1703.5 830.6 L1703.5 826.6 L1707.5 826.6ZM837.0 605.5 L833.1 605.5 L833.1 601.5 L837.0 601.5ZM417.7 107.8 L417.7 111.8 L413.7 111.8 L413.7 107.8ZM1497.8 1182.1 L1497.8 1186.0 L1493.8 1186.0 L1493.8 1182.1ZM1798.5 1059.6 L1798.5 1063.6 L1794.5 1063.6 L1794.5 1059.6ZM1323.7 1063.6 L1319.7 1063.6 L1319.7 1059.6 L1323.7 1059.6ZM1260.4 1186.0 L1256.4 1186.0 L1256.4 1182.1 L1260.4 1182.1ZM1181.3 273.7 L1177.3 273.7 L1177.3 269.8 L1181.3 269.8ZM366.2 1182.1 L370.2 1182.1 L370.2 1186.0 L366.2 1186.0ZM413.7 676.6 L417.7 676.6 L417.7 680.5 L413.7 680.5ZM1157.5 1186.0 L1157.5 1182.1 L1161.5 1182.1 L1161.5 1186.0ZM1770.8 1182.1 L1774.7 1182.1 L1774.7 1186.0 L1770.8 1186.0ZM1331.6 712.1 L1331.6 716.0 L1327.6 716.0 L1327.6 712.1ZM437.4 830.6 L437.4 826.6 L441.4 826.6 L441.4 830.6ZM413.7 1063.6 L409.8 1063.6 L409.8 1059.6 L413.7 1059.6ZM413.7 1166.3 L417.7 1166.3 L417.7 1170.2 L413.7 1170.2ZM1751.0 163.1 L1747.0 163.1 L1747.0 159.2 L1751.0 159.2ZM892.4 605.5 L892.4 601.5 L896.4 601.5 L896.4 605.5ZM1007.2 1063.6 L1003.2 1063.6 L1003.2 1059.6 L1007.2 1059.6ZM263.4 826.6 L263.4 830.6 L259.4 830.6 L259.4 826.6ZM603.6 593.6 L607.6 593.6 L607.6 597.6 L603.6 597.6ZM1628.3 605.5 L1624.4 605.5 L1624.4 601.5 L1628.3 601.5ZM382.1 716.0 L378.1 716.0 L378.1 712.1 L382.1 712.1ZM1830.1 1186.0 L1830.1 1182.1 L1834.1 1182.1 L1834.1 1186.0ZM1391.0 712.1 L1391.0 716.0 L1387.0 716.0 L1387.0 712.1ZM417.7 735.8 L417.7 739.7 L413.7 739.7 L413.7 735.8ZM1181.3 1095.2 L1177.3 1095.2 L1177.3 1091.2 L1181.3 1091.2ZM702.5 1186.0 L702.5 1182.1 L706.5 1182.1 L706.5 1186.0ZM1561.1 301.4 L1561.1 305.3 L1557.1 305.3 L1557.1 301.4ZM1747.0 712.1 L1747.0 716.0 L1743.1 716.0 L1743.1 712.1ZM1861.8 712.1 L1865.7 712.1 L1865.7 716.0 L1861.8 716.0ZM1747.0 573.9 L1747.0 569.9 L1751.0 569.9 L1751.0 573.9ZM1751.0 1182.1 L1754.9 1182.1 L1754.9 1186.0 L1751.0 1186.0ZM1173.3 605.5 L1169.4 605.5 L1169.4 601.5 L1173.3 601.5ZM1173.3 716.0 L1169.4 716.0 L1169.4 712.1 L1173.3 712.1ZM267.3 1186.0 L267.3 1182.1 L271.3 1182.1 L271.3 1186.0ZM603.6 143.4 L607.6 143.4 L607.6 147.3 L603.6 147.3ZM603.6 1221.6 L607.6 1221.6 L607.6 1225.5 L603.6 1225.5ZM1747.0 257.9 L1751.0 257.9 L1751.0 261.9 L1747.0 261.9ZM1747.0 558.1 L1747.0 550.2 L1751.0 550.2 L1751.0 566.0 L1747.0 566.0ZM1723.3 716.0 L1723.3 712.1 L1727.3 712.1 L1727.3 716.0ZM1228.7 605.5 L1228.7 601.5 L1232.7 601.5 L1232.7 605.5ZM1011.1 830.6 L1011.1 826.6 L1015.1 826.6 L1015.1 830.6ZM793.5 123.6 L793.5 119.7 L797.5 119.7 L797.5 123.6ZM417.7 641.0 L413.7 641.0 L413.7 637.1 L417.7 637.1ZM413.7 1269.0 L413.7 1265.0 L417.7 1265.0 L417.7 1269.0ZM1367.2 285.6 L1371.2 285.6 L1371.2 289.5 L1367.2 289.5ZM350.4 202.6 L350.4 206.6 L346.4 206.6 L346.4 202.6ZM512.6 1059.6 L512.6 1063.6 L508.7 1063.6 L508.7 1059.6ZM366.2 1304.5 L362.3 1304.5 L362.3 1300.6 L366.2 1300.6ZM939.9 1186.0 L939.9 1182.1 L943.9 1182.1 L943.9 1186.0ZM1794.5 1186.0 L1790.6 1186.0 L1790.6 1182.1 L1794.5 1182.1ZM603.6 637.1 L603.6 633.1 L607.6 633.1 L607.6 637.1ZM797.5 103.9 L793.5 103.9 L793.5 99.9 L797.5 99.9ZM1414.7 1182.1 L1418.6 1182.1 L1418.6 1186.0 L1414.7 1186.0ZM599.7 601.5 L599.7 605.5 L595.7 605.5 L595.7 601.5ZM603.6 1126.8 L603.6 1122.8 L607.6 1122.8 L607.6 1126.8ZM797.5 301.4 L793.5 301.4 L793.5 297.4 L797.5 297.4ZM603.6 1162.3 L607.6 1162.3 L607.6 1166.3 L603.6 1166.3ZM793.5 834.5 L793.5 830.6 L797.5 830.6 L797.5 838.5 L793.5 838.5ZM852.9 826.6 L856.8 826.6 L856.8 830.6 L852.9 830.6ZM401.8 716.0 L397.9 716.0 L397.9 712.1 L401.8 712.1ZM1181.3 743.7 L1177.3 743.7 L1177.3 739.7 L1181.3 739.7ZM1181.3 605.5 L1177.3 605.5 L1177.3 601.5 L1181.3 601.5ZM441.4 601.5 L441.4 605.5 L437.4 605.5 L437.4 601.5ZM1185.2 1063.6 L1181.3 1063.6 L1181.3 1059.6 L1185.2 1059.6ZM1371.2 577.8 L1371.2 581.8 L1367.2 581.8 L1367.2 577.8ZM1244.6 1063.6 L1240.6 1063.6 L1240.6 1059.6 L1244.6 1059.6ZM413.7 230.3 L413.7 226.3 L417.7 226.3 L417.7 230.3ZM227.8 1063.6 L227.8 1059.6 L235.7 1059.6 L235.7 1063.6ZM1612.5 202.6 L1616.5 202.6 L1616.5 206.6 L1612.5 206.6ZM1260.4 1063.6 L1260.4 1059.6 L1264.3 1059.6 L1264.3 1063.6ZM362.3 601.5 L362.3 605.5 L358.3 605.5 L358.3 601.5ZM1426.6 716.0 L1426.6 712.1 L1430.5 712.1 L1430.5 716.0ZM607.6 1063.6 L607.6 1059.6 L611.5 1059.6 L611.5 1063.6ZM1327.6 601.5 L1331.6 601.5 L1331.6 605.5 L1327.6 605.5ZM1667.9 712.1 L1667.9 716.0 L1663.9 716.0 L1663.9 712.1ZM1754.9 1063.6 L1754.9 1059.6 L1758.9 1059.6 L1758.9 1063.6ZM1181.3 293.5 L1177.3 293.5 L1177.3 289.5 L1181.3 289.5ZM1489.9 830.6 L1485.9 830.6 L1485.9 826.6 L1489.9 826.6ZM706.5 1063.6 L706.5 1059.6 L710.4 1059.6 L710.4 1063.6ZM417.7 127.6 L417.7 131.5 L413.7 131.5 L413.7 127.6ZM1747.0 751.6 L1747.0 747.6 L1751.0 747.6 L1751.0 751.6ZM1181.3 684.5 L1177.3 684.5 L1177.3 680.5 L1181.3 680.5ZM445.4 1304.5 L441.4 1304.5 L441.4 1300.6 L445.4 1300.6ZM698.6 830.6 L694.6 830.6 L694.6 826.6 L698.6 826.6ZM1810.3 1182.1 L1814.3 1182.1 L1814.3 1186.0 L1810.3 1186.0ZM417.7 581.8 L413.7 581.8 L413.7 577.8 L417.7 577.8ZM477.0 830.6 L477.0 826.6 L481.0 826.6 L481.0 830.6ZM765.8 1186.0 L761.9 1186.0 L761.9 1182.1 L765.8 1182.1ZM413.7 660.8 L413.7 656.8 L417.7 656.8 L417.7 660.8ZM963.7 1182.1 L963.7 1186.0 L959.7 1186.0 L959.7 1182.1ZM603.6 1142.6 L607.6 1142.6 L607.6 1146.5 L603.6 1146.5ZM619.4 601.5 L619.4 605.5 L615.5 605.5 L615.5 601.5ZM852.9 601.5 L856.8 601.5 L856.8 605.5 L852.9 605.5ZM579.9 716.0 L575.9 716.0 L575.9 712.1 L579.9 712.1ZM1549.2 605.5 L1545.3 605.5 L1545.3 601.5 L1549.2 601.5ZM694.6 605.5 L694.6 601.5 L698.6 601.5 L698.6 605.5ZM461.2 826.6 L461.2 830.6 L457.2 830.6 L457.2 826.6ZM987.4 688.4 L983.4 688.4 L983.4 684.5 L987.4 684.5ZM405.8 1186.0 L405.8 1182.1 L409.8 1182.1 L409.8 1186.0ZM306.9 1182.1 L310.8 1182.1 L310.8 1186.0 L306.9 1186.0ZM1723.3 601.5 L1727.3 601.5 L1727.3 605.5 L1723.3 605.5ZM1133.8 601.5 L1133.8 605.5 L1129.8 605.5 L1129.8 601.5ZM607.6 123.6 L607.6 127.6 L603.6 127.6 L603.6 123.6ZM1525.5 830.6 L1525.5 826.6 L1529.4 826.6 L1529.4 830.6ZM607.6 1280.8 L607.6 1284.8 L603.6 1284.8 L603.6 1280.8ZM1177.3 96.0 L1177.3 92.0 L1181.3 92.0 L1181.3 96.0ZM603.6 814.8 L603.6 810.8 L607.6 810.8 L607.6 814.8ZM603.6 103.9 L607.6 103.9 L607.6 107.8 L603.6 107.8ZM413.7 1126.8 L417.7 1126.8 L417.7 1130.7 L413.7 1130.7ZM655.1 605.5 L655.1 601.5 L659.0 601.5 L659.0 605.5ZM1644.2 601.5 L1648.1 601.5 L1648.1 605.5 L1644.2 605.5ZM413.7 1288.7 L413.7 1284.8 L417.7 1284.8 L417.7 1288.7ZM603.6 301.4 L607.6 301.4 L607.6 305.3 L603.6 305.3ZM619.4 716.0 L615.5 716.0 L615.5 712.1 L619.4 712.1ZM1826.2 605.5 L1822.2 605.5 L1822.2 601.5 L1826.2 601.5ZM991.4 830.6 L991.4 826.6 L995.3 826.6 L995.3 830.6ZM1181.3 625.2 L1177.3 625.2 L1177.3 621.3 L1181.3 621.3ZM1663.9 605.5 L1663.9 601.5 L1667.9 601.5 L1667.9 605.5ZM682.7 1182.1 L686.7 1182.1 L686.7 1186.0 L682.7 1186.0ZM1201.0 1186.0 L1197.1 1186.0 L1197.1 1182.1 L1201.0 1182.1ZM1747.0 648.9 L1751.0 648.9 L1751.0 652.9 L1747.0 652.9ZM852.9 716.0 L852.9 712.1 L856.8 712.1 L856.8 716.0ZM1901.3 712.1 L1905.3 712.1 L1905.3 716.0 L1901.3 716.0ZM1509.6 830.6 L1505.7 830.6 L1505.7 826.6 L1509.6 826.6Z" fill="#000"/>
<path d="M1707.5 210.5 L1707.5 206.6 L1679.8 206.6 L1679.8 238.2 L1667.9 238.2 L1667.9 206.6 L1660.0 206.6 L1660.0 210.5 L1656.0 210.5 L1656.0 206.6 L1624.4 206.6 L1624.4 202.6 L1612.5 202.6 L1612.5 214.5 L1604.6 214.5 L1604.6 222.4 L1608.6 222.4 L1608.6 269.8 L1588.8 269.8 L1588.8 265.8 L1580.9 265.8 L1580.9 269.8 L1557.1 269.8 L1557.1 265.8 L1553.2 265.8 L1553.2 206.6 L1517.6 206.6 L1517.6 210.5 L1513.6 210.5 L1513.6 206.6 L1442.4 206.6 L1442.4 210.5 L1438.4 210.5 L1438.4 214.5 L1410.7 214.5 L1410.7 218.4 L1398.9 218.4 L1398.9 222.4 L1387.0 222.4 L1387.0 238.2 L1383.0 238.2 L1383.0 261.9 L1363.3 261.9 L1363.3 206.6 L1252.5 206.6 L1252.5 210.5 L1248.5 210.5 L1248.5 206.6 L1169.4 206.6 L1169.4 210.5 L1165.4 210.5 L1165.4 206.6 L1102.1 206.6 L1102.1 210.5 L1098.2 210.5 L1098.2 206.6 L1086.3 206.6 L1086.3 226.3 L1090.3 226.3 L1090.3 246.1 L1078.4 246.1 L1078.4 206.6 L1023.0 206.6 L1023.0 210.5 L1019.0 210.5 L1019.0 206.6 L999.3 206.6 L999.3 214.5 L995.3 214.5 L995.3 246.1 L979.5 246.1 L979.5 206.6 L928.0 206.6 L928.0 202.6 L920.1 202.6 L920.1 206.6 L916.2 206.6 L916.2 218.4 L912.2 218.4 L912.2 265.8 L900.4 265.8 L900.4 269.8 L888.5 269.8 L888.5 265.8 L884.5 265.8 L884.5 269.8 L880.6 269.8 L880.6 273.7 L868.7 273.7 L868.7 206.6 L852.9 206.6 L852.9 210.5 L841.0 210.5 L841.0 206.6 L829.1 206.6 L829.1 210.5 L825.2 210.5 L825.2 206.6 L817.3 206.6 L817.3 214.5 L813.3 214.5 L813.3 250.0 L805.4 250.0 L805.4 265.8 L793.5 265.8 L793.5 261.9 L789.6 261.9 L789.6 206.6 L734.2 206.6 L734.2 210.5 L726.3 210.5 L726.3 226.3 L714.4 226.3 L714.4 210.5 L710.4 210.5 L710.4 206.6 L631.3 206.6 L631.3 226.3 L619.4 226.3 L619.4 206.6 L579.9 206.6 L579.9 210.5 L575.9 210.5 L575.9 206.6 L572.0 206.6 L572.0 210.5 L564.1 210.5 L564.1 206.6 L544.3 206.6 L544.3 210.5 L540.3 210.5 L540.3 206.6 L536.4 206.6 L536.4 261.9 L524.5 261.9 L524.5 206.6 L469.1 206.6 L469.1 234.2 L457.2 234.2 L457.2 214.5 L453.3 214.5 L453.3 218.4 L441.4 218.4 L441.4 261.9 L429.5 261.9 L429.5 206.6 L378.1 206.6 L378.1 210.5 L366.2 210.5 L366.2 206.6 L370.2 206.6 L370.2 202.6 L366.2 202.6 L366.2 198.7 L358.3 198.7 L358.3 194.7 L346.4 194.7 L346.4 254.0 L334.6 254.0 L334.6 206.6 L287.1 206.6 L287.1 210.5 L271.3 210.5 L271.3 206.6 L267.3 206.6 L267.3 210.5 L259.4 210.5 L259.4 214.5 L255.5 214.5 L255.5 242.1 L251.5 242.1 L251.5 261.9 L239.6 261.9 L239.6 257.9 L235.7 257.9 L235.7 206.6 L227.8 206.6 L227.8 198.7 L231.7 198.7 L231.7 194.7 L235.7 194.7 L235.7 147.3 L239.6 147.3 L239.6 143.4 L251.5 143.4 L251.5 163.1 L255.5 163.1 L255.5 198.7 L267.3 198.7 L267.3 194.7 L283.1 194.7 L283.1 198.7 L287.1 198.7 L287.1 194.7 L302.9 194.7 L302.9 198.7 L310.8 198.7 L310.8 194.7 L318.8 194.7 L318.8 198.7 L322.7 198.7 L322.7 194.7 L330.6 194.7 L330.6 139.4 L346.4 139.4 L346.4 182.9 L354.4 182.9 L354.4 186.8 L366.2 186.8 L366.2 190.8 L370.2 190.8 L370.2 194.7 L382.1 194.7 L382.1 198.7 L401.8 198.7 L401.8 194.7 L409.8 194.7 L409.8 198.7 L421.6 198.7 L421.6 194.7 L429.5 194.7 L429.5 147.3 L441.4 147.3 L441.4 206.6 L453.3 206.6 L453.3 202.6 L457.2 202.6 L457.2 155.2 L469.1 155.2 L469.1 198.7 L481.0 198.7 L481.0 194.7 L484.9 194.7 L484.9 198.7 L488.9 198.7 L488.9 194.7 L500.8 194.7 L500.8 198.7 L504.7 198.7 L504.7 194.7 L508.7 194.7 L508.7 198.7 L516.6 198.7 L516.6 194.7 L520.5 194.7 L520.5 198.7 L524.5 198.7 L524.5 139.4 L536.4 139.4 L536.4 194.7 L552.2 194.7 L552.2 198.7 L560.1 198.7 L560.1 194.7 L572.0 194.7 L572.0 198.7 L583.8 198.7 L583.8 194.7 L591.8 194.7 L591.8 198.7 L615.5 198.7 L615.5 194.7 L619.4 194.7 L619.4 171.0 L631.3 171.0 L631.3 194.7 L643.2 194.7 L643.2 198.7 L651.1 198.7 L651.1 194.7 L655.1 194.7 L655.1 198.7 L663.0 198.7 L663.0 194.7 L678.8 194.7 L678.8 198.7 L682.7 198.7 L682.7 194.7 L686.7 194.7 L686.7 198.7 L690.7 198.7 L690.7 194.7 L702.5 194.7 L702.5 198.7 L706.5 198.7 L706.5 194.7 L714.4 194.7 L714.4 175.0 L726.3 175.0 L726.3 198.7 L730.2 198.7 L730.2 194.7 L734.2 194.7 L734.2 198.7 L738.1 198.7 L738.1 194.7 L742.1 194.7 L742.1 198.7 L757.9 198.7 L757.9 194.7 L765.8 194.7 L765.8 198.7 L769.8 198.7 L769.8 194.7 L777.7 194.7 L777.7 198.7 L781.7 198.7 L781.7 194.7 L789.6 194.7 L789.6 143.4 L805.4 143.4 L805.4 159.2 L809.4 159.2 L809.4 182.9 L813.3 182.9 L813.3 198.7 L821.2 198.7 L821.2 194.7 L860.8 194.7 L860.8 198.7 L864.7 198.7 L864.7 143.4 L868.7 143.4 L868.7 127.6 L880.6 127.6 L880.6 135.5 L884.5 135.5 L884.5 139.4 L912.2 139.4 L912.2 155.2 L916.2 155.2 L916.2 175.0 L920.1 175.0 L920.1 190.8 L924.1 190.8 L924.1 194.7 L951.8 194.7 L951.8 198.7 L967.6 198.7 L967.6 194.7 L979.5 194.7 L979.5 175.0 L983.4 175.0 L983.4 143.4 L995.3 143.4 L995.3 198.7 L999.3 198.7 L999.3 194.7 L1007.2 194.7 L1007.2 198.7 L1011.1 198.7 L1011.1 194.7 L1015.1 194.7 L1015.1 198.7 L1019.0 198.7 L1019.0 194.7 L1027.0 194.7 L1027.0 198.7 L1030.9 198.7 L1030.9 194.7 L1038.8 194.7 L1038.8 198.7 L1050.7 198.7 L1050.7 194.7 L1054.7 194.7 L1054.7 198.7 L1062.6 198.7 L1062.6 194.7 L1070.5 194.7 L1070.5 198.7 L1078.4 198.7 L1078.4 143.4 L1090.3 143.4 L1090.3 194.7 L1106.1 194.7 L1106.1 198.7 L1110.0 198.7 L1110.0 194.7 L1114.0 194.7 L1114.0 198.7 L1118.0 198.7 L1118.0 194.7 L1121.9 194.7 L1121.9 198.7 L1137.7 198.7 L1137.7 194.7 L1141.7 194.7 L1141.7 198.7 L1145.7 198.7 L1145.7 194.7 L1157.5 194.7 L1157.5 198.7 L1165.4 198.7 L1165.4 194.7 L1169.4 194.7 L1169.4 198.7 L1205.0 198.7 L1205.0 194.7 L1209.0 194.7 L1209.0 198.7 L1212.9 198.7 L1212.9 194.7 L1216.9 194.7 L1216.9 198.7 L1220.8 198.7 L1220.8 194.7 L1224.8 194.7 L1224.8 198.7 L1228.7 198.7 L1228.7 194.7 L1236.7 194.7 L1236.7 198.7 L1244.6 198.7 L1244.6 194.7 L1252.5 194.7 L1252.5 198.7 L1260.4 198.7 L1260.4 194.7 L1264.3 194.7 L1264.3 198.7 L1272.3 198.7 L1272.3 194.7 L1276.2 194.7 L1276.2 198.7 L1280.2 198.7 L1280.2 194.7 L1284.1 194.7 L1284.1 198.7 L1292.0 198.7 L1292.0 194.7 L1307.9 194.7 L1307.9 198.7 L1323.7 198.7 L1323.7 194.7 L1327.6 194.7 L1327.6 198.7 L1331.6 198.7 L1331.6 194.7 L1347.4 194.7 L1347.4 198.7 L1355.3 198.7 L1355.3 194.7 L1359.3 194.7 L1359.3 198.7 L1363.3 198.7 L1363.3 151.3 L1367.2 151.3 L1367.2 143.4 L1383.0 143.4 L1383.0 214.5 L1394.9 214.5 L1394.9 210.5 L1398.9 210.5 L1398.9 206.6 L1414.7 206.6 L1414.7 202.6 L1430.5 202.6 L1430.5 190.8 L1442.4 190.8 L1442.4 194.7 L1446.3 194.7 L1446.3 198.7 L1478.0 198.7 L1478.0 194.7 L1482.0 194.7 L1482.0 198.7 L1489.9 198.7 L1489.9 194.7 L1509.6 194.7 L1509.6 198.7 L1517.6 198.7 L1517.6 194.7 L1521.5 194.7 L1521.5 198.7 L1533.4 198.7 L1533.4 194.7 L1537.3 194.7 L1537.3 198.7 L1549.2 198.7 L1549.2 194.7 L1553.2 194.7 L1553.2 139.4 L1608.6 139.4 L1608.6 151.3 L1612.5 151.3 L1612.5 171.0 L1616.5 171.0 L1616.5 175.0 L1620.4 175.0 L1620.4 186.8 L1628.3 186.8 L1628.3 190.8 L1632.3 190.8 L1632.3 194.7 L1663.9 194.7 L1663.9 198.7 L1667.9 198.7 L1667.9 171.0 L1679.8 171.0 L1679.8 198.7 L1707.5 198.7 L1707.5 194.7 L1719.3 194.7 L1719.3 198.7 L1723.3 198.7 L1723.3 194.7 L1727.3 194.7 L1727.3 198.7 L1731.2 198.7 L1731.2 194.7 L1735.2 194.7 L1735.2 198.7 L1743.1 198.7 L1743.1 194.7 L1762.9 194.7 L1762.9 198.7 L1766.8 198.7 L1766.8 194.7 L1770.8 194.7 L1770.8 198.7 L1774.7 198.7 L1774.7 194.7 L1778.7 194.7 L1778.7 198.7 L1786.6 198.7 L1786.6 194.7 L1794.5 194.7 L1794.5 198.7 L1798.5 198.7 L1798.5 194.7 L1814.3 194.7 L1814.3 198.7 L1822.2 198.7 L1822.2 194.7 L1826.2 194.7 L1826.2 198.7 L1834.1 198.7 L1834.1 194.7 L1838.0 194.7 L1838.0 163.1 L1842.0 163.1 L1842.0 147.3 L1853.9 147.3 L1853.9 198.7 L1857.8 198.7 L1857.8 194.7 L1873.6 194.7 L1873.6 198.7 L1877.6 198.7 L1877.6 194.7 L1881.6 194.7 L1881.6 198.7 L1889.5 198.7 L1889.5 194.7 L1893.4 194.7 L1893.4 198.7 L1901.3 198.7 L1901.3 194.7 L1905.3 194.7 L1905.3 198.7 L1913.2 198.7 L1913.2 194.7 L1921.1 194.7 L1921.1 198.7 L1925.1 198.7 L1925.1 194.7 L1929.0 194.7 L1929.0 198.7 L1940.9 198.7 L1940.9 206.6 L1849.9 206.6 L1849.9 210.5 L1853.9 210.5 L1853.9 257.9 L1842.0 257.9 L1842.0 254.0 L1838.0 254.0 L1838.0 234.2 L1842.0 234.2 L1842.0 206.6 L1810.3 206.6 L1810.3 210.5 L1806.4 210.5 L1806.4 206.6 L1711.4 206.6 L1711.4 210.5ZM1822.2 739.7 L1675.8 739.7 L1675.8 830.6 L1557.1 830.6 L1557.1 731.8 L1553.2 731.8 L1553.2 637.1 L1371.2 637.1 L1371.2 830.6 L1078.4 830.6 L1078.4 771.3 L1074.4 771.3 L1074.4 716.0 L991.4 716.0 L991.4 771.3 L987.4 771.3 L987.4 830.6 L868.7 830.6 L868.7 692.4 L864.7 692.4 L864.7 558.1 L801.4 558.1 L801.4 692.4 L797.5 692.4 L797.5 830.6 L714.4 830.6 L714.4 771.3 L627.4 771.3 L627.4 830.6 L524.5 830.6 L524.5 637.1 L437.4 637.1 L437.4 830.6 L334.6 830.6 L334.6 712.1 L330.6 712.1 L330.6 593.6 L247.5 593.6 L247.5 712.1 L243.6 712.1 L243.6 830.6 L223.8 830.6 L223.8 822.7 L235.7 822.7 L235.7 589.7 L239.6 589.7 L239.6 585.7 L338.5 585.7 L338.5 589.7 L342.5 589.7 L342.5 822.7 L429.5 822.7 L429.5 633.1 L433.5 633.1 L433.5 629.2 L532.4 629.2 L532.4 633.1 L536.4 633.1 L536.4 822.7 L619.4 822.7 L619.4 767.4 L623.4 767.4 L623.4 763.4 L722.3 763.4 L722.3 767.4 L726.3 767.4 L726.3 822.7 L789.6 822.7 L789.6 554.1 L793.5 554.1 L793.5 550.2 L872.7 550.2 L872.7 554.1 L876.6 554.1 L876.6 822.7 L979.5 822.7 L979.5 712.1 L983.4 712.1 L983.4 708.1 L1082.3 708.1 L1082.3 712.1 L1086.3 712.1 L1086.3 822.7 L1363.3 822.7 L1363.3 633.1 L1367.2 633.1 L1367.2 629.2 L1561.1 629.2 L1561.1 633.1 L1565.0 633.1 L1565.0 822.7 L1667.9 822.7 L1667.9 735.8 L1671.9 735.8 L1671.9 731.8 L1845.9 731.8 L1845.9 735.8 L1849.9 735.8 L1849.9 822.7 L1940.9 822.7 L1940.9 830.6 L1842.0 830.6 L1842.0 783.2 L1838.0 783.2 L1838.0 739.7ZM536.4 1261.1 L536.4 1296.6 L789.6 1296.6 L789.6 1059.6 L793.5 1059.6 L793.5 1055.7 L801.4 1055.7 L801.4 1059.6 L805.4 1059.6 L805.4 1296.6 L864.7 1296.6 L864.7 1059.6 L868.7 1059.6 L868.7 1055.7 L908.3 1055.7 L908.3 1059.6 L912.2 1059.6 L912.2 1296.6 L979.5 1296.6 L979.5 1182.1 L983.4 1182.1 L983.4 1059.6 L995.3 1059.6 L995.3 1296.6 L1078.4 1296.6 L1078.4 1059.6 L1090.3 1059.6 L1090.3 1296.6 L1363.3 1296.6 L1363.3 1059.6 L1375.1 1059.6 L1375.1 1055.7 L1438.4 1055.7 L1438.4 1059.6 L1442.4 1059.6 L1442.4 1296.6 L1553.2 1296.6 L1553.2 1059.6 L1557.1 1059.6 L1557.1 1055.7 L1576.9 1055.7 L1576.9 1059.6 L1584.8 1059.6 L1584.8 1055.7 L1600.6 1055.7 L1600.6 1059.6 L1608.6 1059.6 L1608.6 1296.6 L1842.0 1296.6 L1842.0 1059.6 L1845.9 1059.6 L1845.9 1055.7 L1853.9 1055.7 L1853.9 1059.6 L1857.8 1059.6 L1857.8 1296.6 L1940.9 1296.6 L1940.9 1304.5 L1434.5 1304.5 L1434.5 1182.1 L1430.5 1182.1 L1430.5 1063.6 L1383.0 1063.6 L1383.0 1304.5 L457.2 1304.5 L457.2 1063.6 L437.4 1063.6 L437.4 1304.5 L370.2 1304.5 L370.2 1182.1 L366.2 1182.1 L366.2 1063.6 L346.4 1063.6 L346.4 1304.5 L227.8 1304.5 L227.8 1296.6 L235.7 1296.6 L235.7 1059.6 L239.6 1059.6 L239.6 1055.7 L251.5 1055.7 L251.5 1059.6 L255.5 1059.6 L255.5 1296.6 L330.6 1296.6 L330.6 1059.6 L334.6 1059.6 L334.6 1055.7 L374.1 1055.7 L374.1 1059.6 L378.1 1059.6 L378.1 1296.6 L429.5 1296.6 L429.5 1059.6 L433.5 1059.6 L433.5 1055.7 L465.1 1055.7 L465.1 1059.6 L469.1 1059.6 L469.1 1296.6 L524.5 1296.6 L524.5 1059.6 L536.4 1059.6Z" fill="#00f"/>
<path d="M330.6 546.2 L1944.9 546.2 L1944.9 842.4 L219.8 842.4 L219.8 546.2ZM1474.0 1035.9 L1944.9 1035.9 L1944.9 1332.1 L223.8 1332.1 L223.8 1035.9ZM239.6 348.8 L1940.9 348.8 L1940.9 60.4 L227.8 60.4 L227.8 348.8ZM912.2 838.5 L1940.9 838.5 L1940.9 550.2 L223.8 550.2 L223.8 838.5ZM1940.9 1292.7 L1940.9 1039.9 L227.8 1039.9 L227.8 1328.2 L1940.9 1328.2ZM761.9 56.5 L1944.9 56.5 L1944.9 352.7 L223.8 352.7 L223.8 56.5Z" fill="#000"/>
<g class="t"><text transform="matrix(0.5219 0 0 0.5753 239.99 668.75)">21%</text>
<text transform="matrix(0.5095 0 0 0.5771 432.83 609.65)">17%</text>
<text transform="matrix(0.5277 0 0 0.5753 636.49 759.52)">5%</text>
<text transform="matrix(0.5209 0 0 0.5739 794.70 649.06)">24%</text>
<text transform="matrix(0.5069 0 0 0.5692 990.75 700.33)">10%</text>
<text transform="matrix(0.5122 0 0 0.5771 1409.71 609.65)">17%</text>
<text transform="matrix(0.5304 0 0 0.5692 1716.32 704.33)">8%</text></g>
<g class="t"><text transform="matrix(0.5053 0 0 0.5692 122.18 76.26)">390</text>
<text transform="matrix(0.5053 0 0 0.5692 122.18 222.38)">380</text>
<text transform="matrix(0.5053 0 0 0.5692 122.18 368.51)">370</text>
<text transform="matrix(0.5257 0 0 0.5692 134.05 621.27)">0.2</text>
<text transform="matrix(0.5257 0 0 0.5692 134.05 731.85)">0.1</text>
<text transform="matrix(0.5209 0 0 0.5692 177.57 846.38)">0</text>
<text transform="matrix(0.5257 0 0 0.5692 134.05 1079.40)">0.1</text>
<text transform="matrix(0.5142 0 0 0.5692 106.59 1201.83)">0.05</text>
<text transform="matrix(0.5209 0 0 0.5692 177.57 1320.31)">0</text>
<text transform="matrix(0.5105 0 0 0.5692 209.71 411.83)">0</text>
<text transform="matrix(0.4895 0 0 0.5692 385.18 411.83)">10</text>
<text transform="matrix(0.5210 0 0 0.5692 572.49 411.83)">20</text>
<text transform="matrix(0.5169 0 0 0.5692 762.64 411.83)">30</text>
<text transform="matrix(0.4971 0 0 0.5692 954.36 411.83)">40</text>
<text transform="matrix(0.5092 0 0 0.5692 1146.06 411.83)">50</text>
<text transform="matrix(0.5166 0 0 0.5692 1335.97 411.83)">60</text>
<text transform="matrix(0.5117 0 0 0.5692 1526.49 411.83)">70</text>
<text transform="matrix(0.5126 0 0 0.5692 1716.40 411.83)">80</text>
<text transform="matrix(0.5146 0 0 0.5692 1910.18 411.83)">90</text>
<text transform="matrix(0.5105 0 0 0.5692 205.71 901.43)">0</text>
<text transform="matrix(0.4895 0 0 0.5692 385.18 901.43)">10</text>
<text transform="matrix(0.5210 0 0 0.5692 572.49 901.43)">20</text>
<text transform="matrix(0.5169 0 0 0.5692 762.64 901.43)">30</text>
<text transform="matrix(0.4971 0 0 0.5692 954.36 901.43)">40</text>
<text transform="matrix(0.5092 0 0 0.5692 1146.06 901.43)">50</text>
<text transform="matrix(0.5166 0 0 0.5692 1335.97 901.43)">60</text>
<text transform="matrix(0.5117 0 0 0.5692 1526.49 901.43)">70</text>
<text transform="matrix(0.5126 0 0 0.5692 1716.40 901.43)">80</text>
<text transform="matrix(0.5146 0 0 0.5692 1910.18 901.43)">90</text>
<text transform="matrix(0.5105 0 0 0.5692 209.71 1391.43)">0</text>
<text transform="matrix(0.4895 0 0 0.5692 385.18 1391.43)">10</text>
<text transform="matrix(0.5210 0 0 0.5692 572.49 1391.43)">20</text>
<text transform="matrix(0.5169 0 0 0.5692 762.64 1391.43)">30</text>
<text transform="matrix(0.4971 0 0 0.5692 954.36 1391.43)">40</text>
<text transform="matrix(0.5092 0 0 0.5692 1146.06 1391.43)">50</text>
<text transform="matrix(0.5166 0 0 0.5692 1335.97 1391.43)">60</text>
<text transform="matrix(0.5117 0 0 0.5692 1526.49 1391.43)">70</text>
<text transform="matrix(0.5126 0 0 0.5692 1716.40 1391.43)">80</text>
<text transform="matrix(0.5146 0 0 0.5692 1910.18 1391.43)">90</text>
<text transform="matrix(0.4688 0 0 0.5601 960.63 480.21)">a)</text>
<text transform="matrix(0.5197 0 0 0.5524 1018.52 479.65)">time</text>
<text transform="matrix(0.5722 0 0 0.5595 1133.04 480.16)">[s]</text>
<text transform="matrix(0.4829 0 0 0.5601 959.46 970.01)">b)</text>
<text transform="matrix(0.5197 0 0 0.5524 1018.52 969.45)">time</text>
<text transform="matrix(0.5722 0 0 0.5595 1133.04 969.96)">[s]</text>
<text transform="matrix(0.5048 0 0 0.5601 960.48 1459.61)">c)</text>
<text transform="matrix(0.5197 0 0 0.5524 1018.52 1459.05)">time</text>
<text transform="matrix(0.5722 0 0 0.5595 1133.04 1459.56)">[s]</text>
<text transform="matrix(0 -0.4983 0.5762 0 85.42 339.84)">Output</text>
<text transform="matrix(0 -0.5587 0.5595 0 85.76 171.37)">[ V ]</text>
<text transform="matrix(0 -0.5165 0.5826 0 97.28 923.24)">Torque</text>
<text transform="matrix(0 -0.4879 0.5524 0 97.25 748.60)">v<tspan dx="20.00">ariation</tspan></text>
<text transform="matrix(0 -0.5464 0.5595 0 97.76 538.28)">[%]</text>
<text transform="matrix(0 -0.4986 0.5469 0 69.25 1429.94)">Control</text>
<text transform="matrix(0 -0.5059 0.5552 0 69.85 1253.64)">penalty</text>
<text transform="matrix(0 -0.5336 0.5477 0 69.25 1073.15)">factor</text></g>
</svg>
</body></html>
